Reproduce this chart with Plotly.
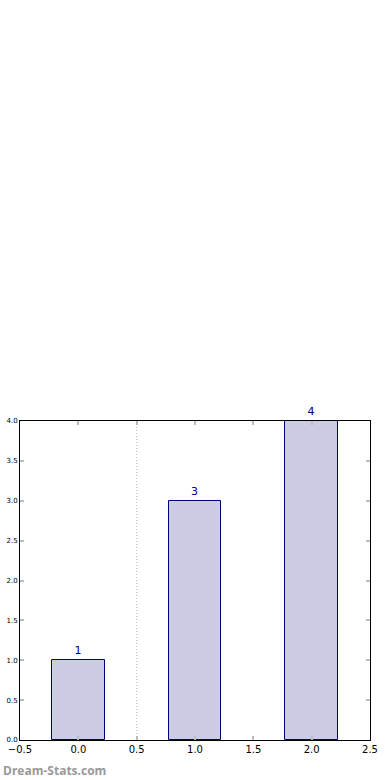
import plotly.graph_objects as go

categories = [0, 1, 2]
values = [1, 3, 4]
labels = ["1", "3", "4"]
x_ticks = [-0.5, 0.0, 0.5, 1.0, 1.5, 2.0, 2.5]
y_ticks = [0.0, 0.5, 1.0, 1.5, 2.0, 2.5, 3.0, 3.5, 4.0]
divider_x = 0.5

fig = go.Figure()
fig.add_trace(go.Bar(
    x=categories, y=values, width=0.45,
    marker=dict(color="rgb(204,204,229)", line=dict(color="#000080", width=1)),
    text=labels, textposition="outside", cliponaxis=False,
    textfont=dict(color="#000080", size=11, family="DejaVu Sans"),
))
fig.add_vline(x=divider_x, line=dict(color="#bbbbbb", width=1, dash="1px,2px"))

axis_common = dict(
    showgrid=False, zeroline=False, showline=True, linecolor="black", linewidth=1,
    mirror="ticks", ticks="inside", ticklen=4, tickcolor="#bbbbbb", tickwidth=1.5,
    automargin=False,
)
fig.update_xaxes(range=[-0.5, 2.5], tickvals=x_ticks,
                 ticktext=[f"{v:.1f}".replace("-", "\u2212") for v in x_ticks],
                 tickfont=dict(size=10, family="DejaVu Sans", color="black"), **axis_common)
fig.update_yaxes(range=[0, 4], tickvals=y_ticks,
                 ticktext=[f"{v:.1f}" for v in y_ticks],
                 tickfont=dict(size=7, family="DejaVu Sans", color="black"), **axis_common)
fig.add_annotation(text="<b>Dream-Stats.com</b>", xref="paper", yref="paper",
                   x=0, y=-0.095, xanchor="left", yanchor="middle", xshift=-19,
                   showarrow=False, font=dict(size=12, color="#999999", family="Open Sans"))
fig.update_layout(
    width=390, height=780, margin=dict(l=19.5, r=20, t=421, b=40),
    plot_bgcolor="white", paper_bgcolor="white", showlegend=False, bargap=0,
)
fig.write_html("out.html")
